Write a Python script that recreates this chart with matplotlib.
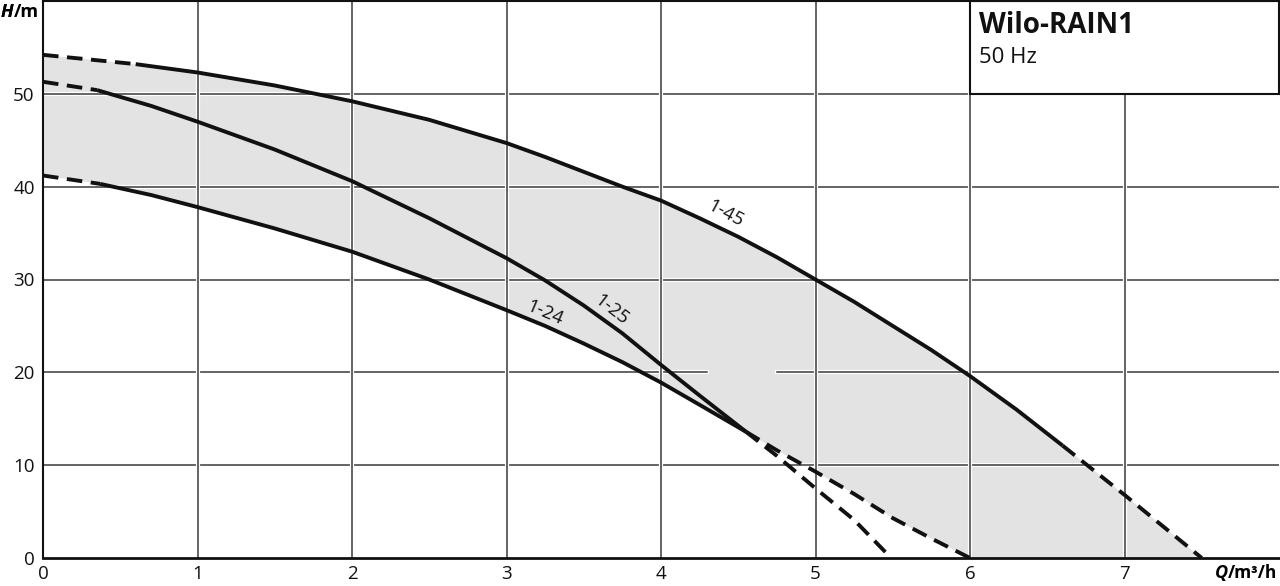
import matplotlib.pyplot as plt
import matplotlib.patheffects as pe
from matplotlib.patches import Rectangle

plt.rcParams["font.family"] = ["Open Sans", "DejaVu Sans"]

# pump curves (Q in m3/h, H in m)
q_145 = [0, 0.6, 1, 1.5, 2, 2.5, 3, 3.25, 3.5, 3.75, 4, 4.25, 4.5, 4.75, 5, 5.25,
         5.5, 5.75, 6, 6.3, 6.6, 7, 7.25, 7.5]
h_145 = [54.2, 53.2, 52.3, 50.9, 49.2, 47.2, 44.7, 43.2, 41.6, 40.0, 38.5, 36.6,
         34.6, 32.4, 30.0, 27.6, 25.0, 22.4, 19.6, 16.0, 12.1, 6.8, 3.4, 0]
solid_145 = (0.6, 6.6)

q_125 = [0, 0.35, 0.7, 1, 1.5, 2, 2.5, 3, 3.25, 3.5, 3.75, 4, 4.25, 4.55, 4.75,
         5, 5.25, 5.49]
h_125 = [51.3, 50.4, 48.7, 47.0, 44.0, 40.6, 36.6, 32.3, 29.9, 27.2, 24.2, 20.8,
         17.5, 13.6, 11.0, 7.5, 4.1, 0]
solid_125 = (0.35, 4.55)

q_124 = [0, 0.37, 0.7, 1, 1.5, 2, 2.5, 3, 3.25, 3.5, 3.75, 4, 4.25, 4.55, 4.75,
         5, 5.25, 5.5, 5.75, 6]
h_124 = [41.2, 40.3, 39.1, 37.8, 35.5, 33.0, 30.0, 26.7, 25.0, 23.1, 21.1, 18.9,
         16.5, 13.6, 11.6, 9.3, 6.9, 4.3, 2.1, 0]
solid_124 = (0.37, 4.55)

x_ticks = [0, 1, 2, 3, 4, 5, 6, 7]
y_ticks = [0, 10, 20, 30, 40, 50]

curve_labels = [("1-45", 4.42, 37.1, -28), ("1-25", 3.68, 26.7, -38), ("1-24", 3.25, 26.4, -23)]


def draw_curve(axis, q, h, solid):
    lo, hi = solid
    parts = [
        ([x for x in q if x <= lo], "--"),
        ([x for x in q if lo <= x <= hi], "-"),
        ([x for x in q if x >= hi], "--"),
    ]
    for xs, style in parts:
        ys = [h[q.index(x)] for x in xs]
        axis.plot(xs, ys, style, color="#111111", linewidth=2.8,
                  dashes=(4, 2.2) if style == "--" else (None, None),
                  solid_capstyle="butt", solid_joinstyle="round", zorder=4)


def draw_grid(axis):
    halo = [pe.Stroke(linewidth=3, foreground="white"), pe.Normal()]
    for y in y_ticks[1:]:
        spans = [(0, 4.3), (4.75, 8)] if y == 20 else [(0, 8)]
        for a, b in spans:
            axis.plot([a, b], [y, y], color="#3a3a3a", linewidth=1.1,
                      path_effects=halo, zorder=2)
    for x in x_ticks[1:]:
        axis.plot([x, x], [0, 60], color="#3a3a3a", linewidth=1.1,
                  path_effects=halo, zorder=2)


def axis_unit(fig, x, y, symbol, unit, ha):
    # italic symbol followed by the unit, e.g. H/m
    if ha == "left":
        first = fig.text(x, y, symbol, fontsize=13, fontweight="bold",
                         fontstyle="italic", va="center", ha="left")
        fig.add_artist(first)
        plt.annotate(unit, xy=(1, 0.5), xycoords=first, fontsize=13,
                     fontweight="bold", va="center", ha="left",
                     annotation_clip=False)
    else:
        last = fig.text(x, y, unit, fontsize=12.5, fontweight="bold",
                        va="center", ha="right")
        plt.annotate(symbol, xy=(0, 0.5), xycoords=last, fontsize=13,
                     fontweight="bold", fontstyle="italic", va="center",
                     ha="right", annotation_clip=False)


def main():
    fig = plt.figure(figsize=(12.8, 5.86), dpi=100)
    ax = fig.add_axes([43 / 1280, 28 / 586, 1236 / 1280, 557 / 586])
    ax.set_xlim(0, 8)
    ax.set_ylim(0, 60)

    ax.fill(q_145 + q_124[::-1], h_145 + h_124[::-1], color="#e3e3e3",
            linewidth=0, zorder=1)
    draw_grid(ax)

    draw_curve(ax, q_145, h_145, solid_145)
    draw_curve(ax, q_125, h_125, solid_125)
    draw_curve(ax, q_124, h_124, solid_124)

    for text, x, y, rot in curve_labels:
        ax.text(x, y, text, fontsize=13.5, rotation=rot, ha="center", va="center",
                color="#111111", zorder=5)

    box = Rectangle((6, 50), 2, 10, facecolor="white", edgecolor="#111111",
                    linewidth=1.5, zorder=6, clip_on=False)
    ax.add_patch(box)
    ax.text(6.06, 57.4, "Wilo-RAIN1", fontsize=20, fontweight="bold",
            va="center", ha="left", color="#111111", zorder=7)
    ax.text(6.06, 53.9, "50 Hz", fontsize=16, va="center", ha="left",
            color="#111111", zorder=7)

    ax.set_xticks(x_ticks)
    ax.set_yticks(y_ticks)
    ax.set_xticklabels([str(v) for v in x_ticks], fontsize=13.5)
    ax.set_yticklabels([str(v) for v in y_ticks], fontsize=13.5)
    ax.tick_params(axis="x", length=0, pad=5, colors="#111111")
    ax.tick_params(axis="y", length=0, pad=6, colors="#111111")

    for side in ("left", "top"):
        ax.spines[side].set_linewidth(1.5)
    ax.spines["bottom"].set_linewidth(2)
    ax.spines["right"].set_visible(False)
    for spine in ax.spines.values():
        spine.set_color("#111111")
        spine.set_zorder(8)

    axis_unit(fig, 1 / 1280, 1 - 12 / 586, "H", "/m", "left")
    axis_unit(fig, 1277 / 1280, 1 - 573 / 586, "Q", "/m³/h", "right")

    fig.savefig("out.png", dpi=100)


if __name__ == "__main__":
    main()
